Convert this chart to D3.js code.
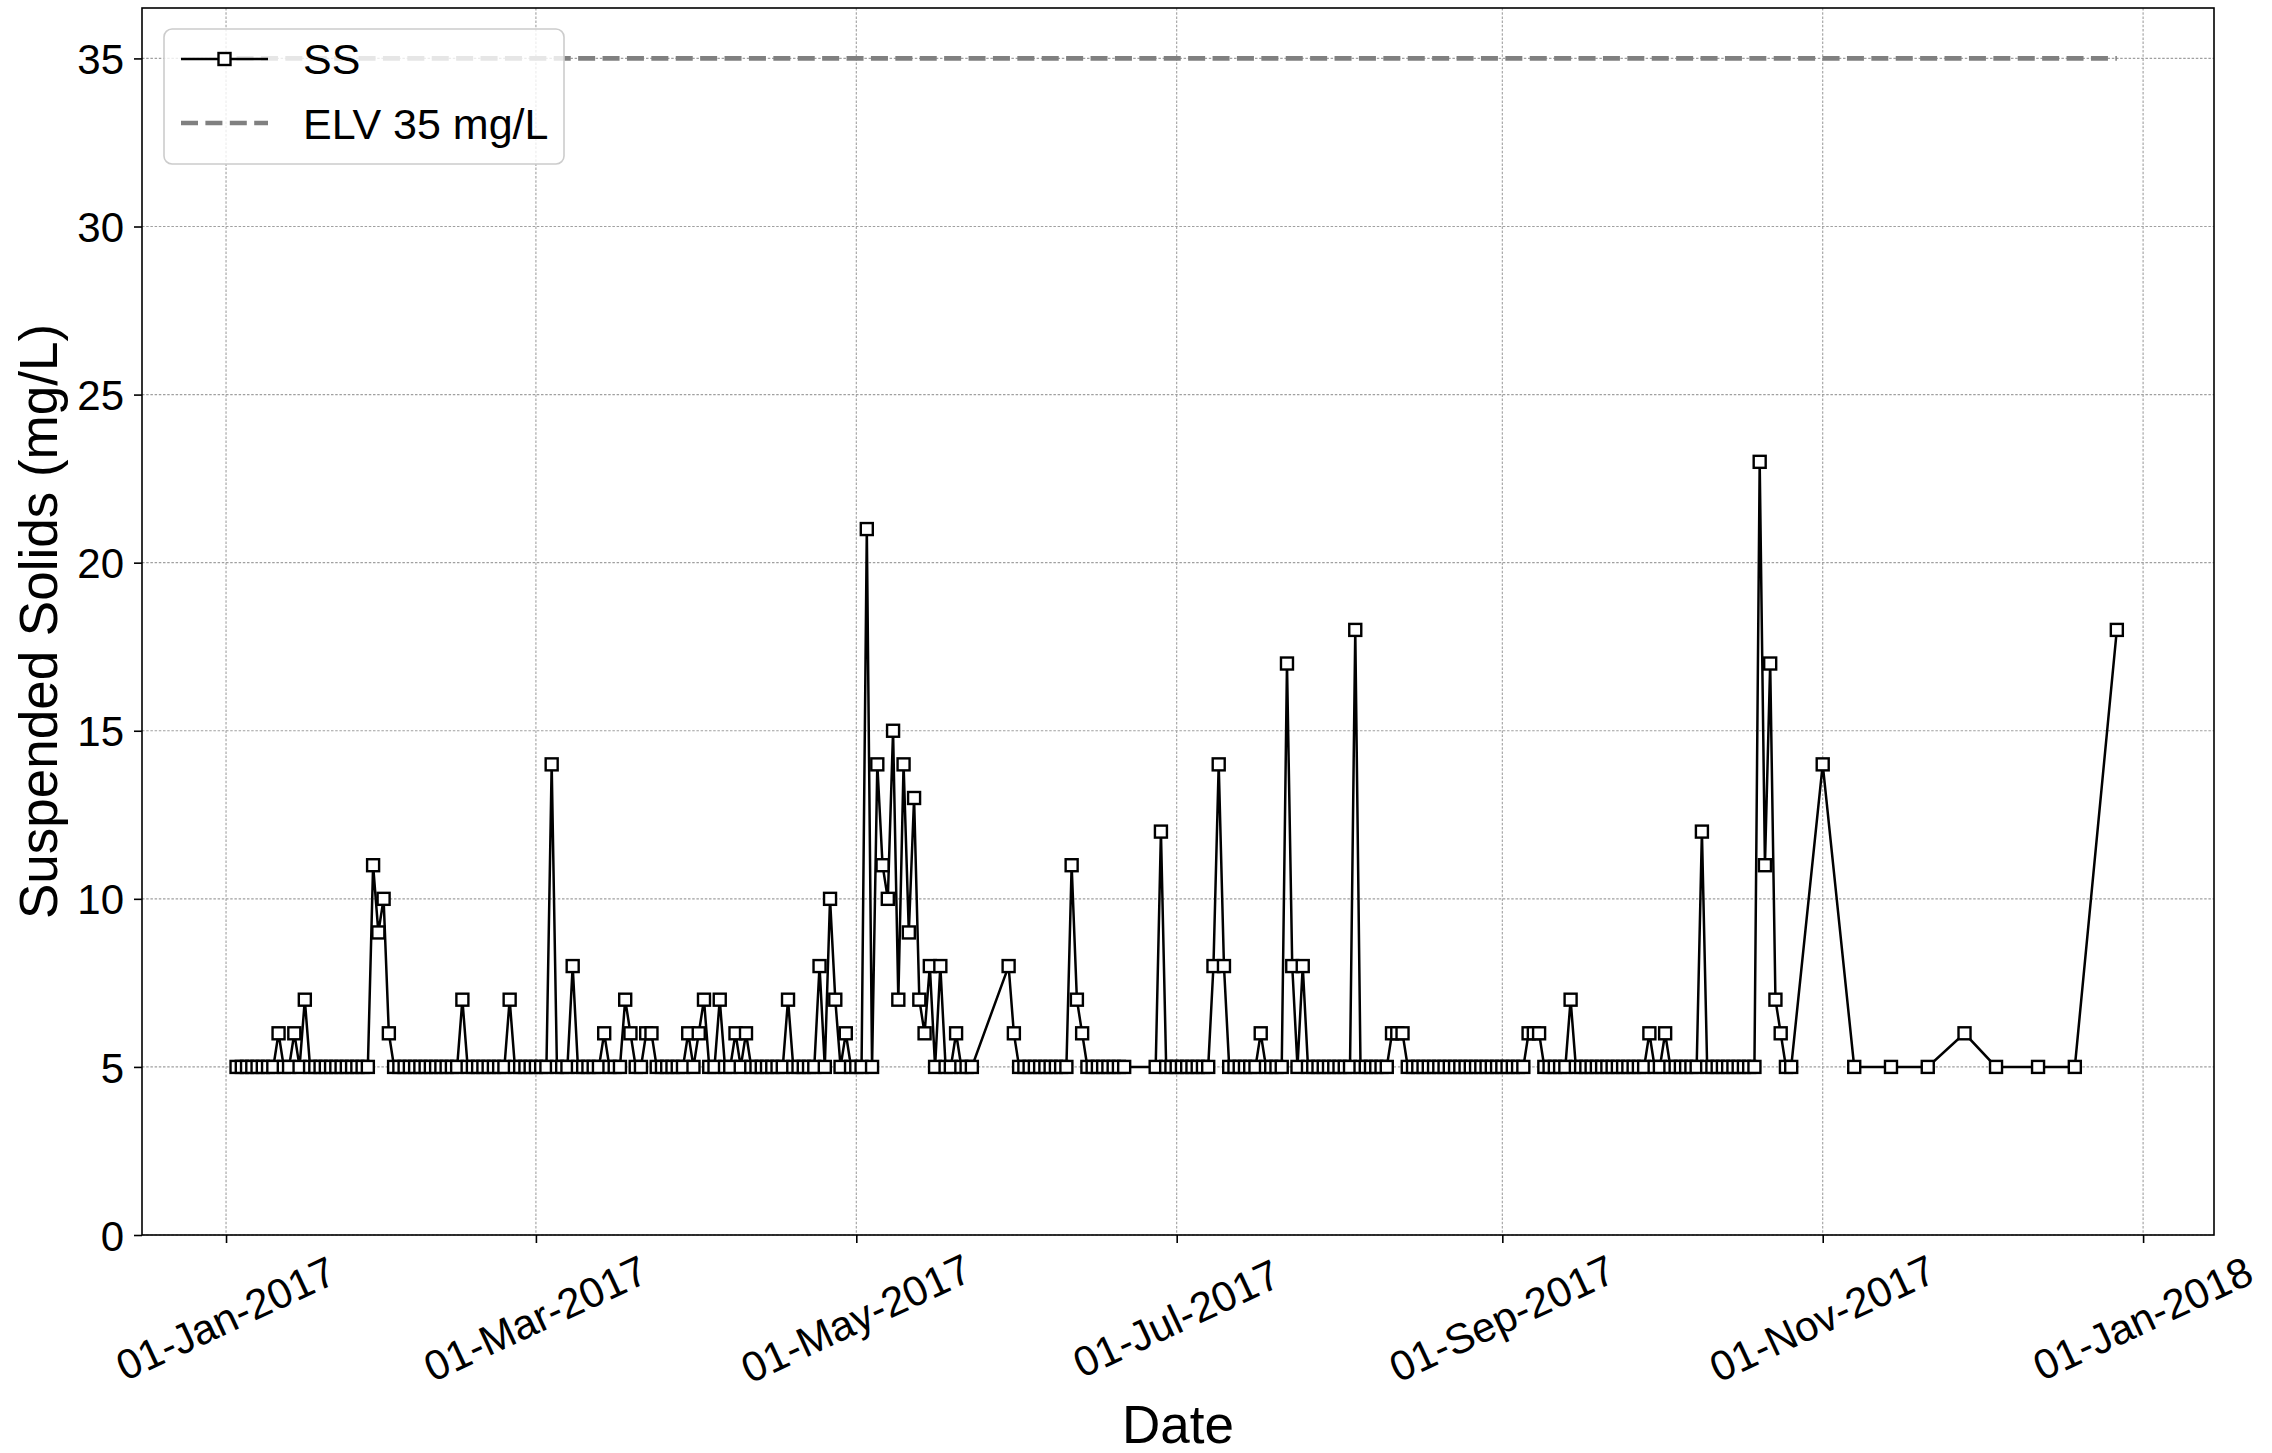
<!DOCTYPE html>
<html>
<head>
<meta charset="utf-8">
<script src="https://cdn.jsdelivr.net/npm/d3@7"></script>
<style>
  html, body { margin: 0; padding: 0; background: #ffffff; }
  svg { display: block; }
  text { font-family: "Liberation Sans", Arial, Helvetica, sans-serif; fill: #000; }
</style>
</head>
<body>
<svg id="chart" width="2272" height="1453"></svg>
<script>
// Daily suspended solids samples, 2017
const sampleDates = [
  "2017-01-03","2017-01-04","2017-01-05","2017-01-06","2017-01-07","2017-01-08","2017-01-09","2017-01-10","2017-01-11","2017-01-12","2017-01-13","2017-01-14","2017-01-15","2017-01-16","2017-01-17","2017-01-18","2017-01-19","2017-01-20","2017-01-21","2017-01-22","2017-01-23","2017-01-24","2017-01-25","2017-01-26","2017-01-27","2017-01-28","2017-01-29","2017-01-30","2017-01-31",
  "2017-02-01","2017-02-02","2017-02-03","2017-02-04","2017-02-05","2017-02-06","2017-02-07","2017-02-08","2017-02-09","2017-02-10","2017-02-11","2017-02-12","2017-02-13","2017-02-14","2017-02-15","2017-02-16","2017-02-17","2017-02-18","2017-02-19","2017-02-20","2017-02-21","2017-02-22","2017-02-23","2017-02-24","2017-02-25","2017-02-26","2017-02-27","2017-02-28",
  "2017-03-01","2017-03-02","2017-03-03","2017-03-04","2017-03-05","2017-03-06","2017-03-07","2017-03-08","2017-03-09","2017-03-10","2017-03-11","2017-03-12","2017-03-13","2017-03-14","2017-03-15","2017-03-16","2017-03-17","2017-03-18","2017-03-19","2017-03-20","2017-03-21","2017-03-22","2017-03-23","2017-03-24","2017-03-25","2017-03-26","2017-03-27","2017-03-28","2017-03-29","2017-03-30","2017-03-31",
  "2017-04-01","2017-04-02","2017-04-03","2017-04-04","2017-04-05","2017-04-06","2017-04-07","2017-04-08","2017-04-09","2017-04-10","2017-04-11","2017-04-12","2017-04-13","2017-04-14","2017-04-15","2017-04-16","2017-04-17","2017-04-18","2017-04-19","2017-04-20","2017-04-21","2017-04-22","2017-04-23","2017-04-24","2017-04-25","2017-04-26","2017-04-27","2017-04-28","2017-04-29","2017-04-30",
  "2017-05-01","2017-05-02","2017-05-03","2017-05-04","2017-05-05","2017-05-06","2017-05-07","2017-05-08","2017-05-09","2017-05-10","2017-05-11","2017-05-12","2017-05-13","2017-05-14","2017-05-15","2017-05-16","2017-05-17","2017-05-18","2017-05-19","2017-05-20","2017-05-21","2017-05-22","2017-05-23","2017-05-30","2017-05-31",
  "2017-06-01","2017-06-02","2017-06-03","2017-06-04","2017-06-05","2017-06-06","2017-06-07","2017-06-08","2017-06-09","2017-06-10","2017-06-11","2017-06-12","2017-06-13","2017-06-14","2017-06-15","2017-06-16","2017-06-17","2017-06-18","2017-06-19","2017-06-20","2017-06-21","2017-06-27","2017-06-28","2017-06-29","2017-06-30",
  "2017-07-01","2017-07-02","2017-07-03","2017-07-04","2017-07-05","2017-07-06","2017-07-07","2017-07-08","2017-07-09","2017-07-10","2017-07-11","2017-07-12","2017-07-13","2017-07-14","2017-07-15","2017-07-16","2017-07-17","2017-07-18","2017-07-19","2017-07-20","2017-07-21","2017-07-22","2017-07-23","2017-07-24","2017-07-25","2017-07-26","2017-07-27","2017-07-28","2017-07-29","2017-07-30","2017-07-31",
  "2017-08-01","2017-08-02","2017-08-03","2017-08-04","2017-08-05","2017-08-06","2017-08-07","2017-08-08","2017-08-09","2017-08-10","2017-08-11","2017-08-12","2017-08-13","2017-08-14","2017-08-15","2017-08-16","2017-08-17","2017-08-18","2017-08-19","2017-08-20","2017-08-21","2017-08-22","2017-08-23","2017-08-24","2017-08-25","2017-08-26","2017-08-27","2017-08-28","2017-08-29","2017-08-30","2017-08-31",
  "2017-09-01","2017-09-02","2017-09-03","2017-09-04","2017-09-05","2017-09-06","2017-09-07","2017-09-08","2017-09-09","2017-09-10","2017-09-11","2017-09-12","2017-09-13","2017-09-14","2017-09-15","2017-09-16","2017-09-17","2017-09-18","2017-09-19","2017-09-20","2017-09-21","2017-09-22","2017-09-23","2017-09-24","2017-09-25","2017-09-26","2017-09-27","2017-09-28","2017-09-29","2017-09-30",
  "2017-10-01","2017-10-02","2017-10-03","2017-10-04","2017-10-05","2017-10-06","2017-10-07","2017-10-08","2017-10-09","2017-10-10","2017-10-11","2017-10-12","2017-10-13","2017-10-14","2017-10-15","2017-10-16","2017-10-17","2017-10-18","2017-10-19","2017-10-20","2017-10-21","2017-10-22","2017-10-23","2017-10-24","2017-10-25","2017-10-26",
  "2017-11-01","2017-11-07","2017-11-14","2017-11-21","2017-11-28",
  "2017-12-04","2017-12-12","2017-12-19","2017-12-27"
];

// Suspended solids (mg/L), one value per sample date
const ssValues = [
  5,5,5,5,5,5,5,5,6,5,5,6,5,7,5,5,5,5,5,5,5,5,5,5,5,5,11,9,10,
  6,5,5,5,5,5,5,5,5,5,5,5,5,5,7,5,5,5,5,5,5,5,5,7,5,5,5,5,
  5,5,5,14,5,5,5,8,5,5,5,5,5,6,5,5,5,7,6,5,5,6,6,5,5,5,5,5,5,6,5,
  6,7,5,5,7,5,5,6,5,6,5,5,5,5,5,5,5,7,5,5,5,5,5,8,5,10,7,5,6,5,
  5,5,21,5,14,11,10,15,7,14,9,13,7,6,8,5,8,5,5,6,5,5,5,8,6,
  5,5,5,5,5,5,5,5,5,5,11,7,6,5,5,5,5,5,5,5,5,5,12,5,5,
  5,5,5,5,5,5,5,8,14,8,5,5,5,5,5,5,6,5,5,5,5,17,8,5,8,5,5,5,5,5,5,
  5,5,5,18,5,5,5,5,5,5,6,6,6,5,5,5,5,5,5,5,5,5,5,5,5,5,5,5,5,5,5,
  5,5,5,5,5,6,6,6,5,5,5,5,5,7,5,5,5,5,5,5,5,5,5,5,5,5,5,5,6,5,
  5,6,5,5,5,5,5,5,12,5,5,5,5,5,5,5,5,5,5,23,11,17,7,6,5,5,
  14,5,5,5,6,
  5,5,5,18
];

// Emission limit value
const elvValue = 35;
const elvLabel = "ELV 35 mg/L";
const seriesLabel = "SS";

// Axis ticks
const yTicks = [0, 5, 10, 15, 20, 25, 30, 35];
const xTickDates = ["2017-01-01","2017-03-01","2017-05-01","2017-07-01","2017-09-01","2017-11-01","2018-01-01"];

const xTitle = "Date";
const yTitle = "Suspended Solids (mg/L)";

// ---------------------------------------------------------------
const parse = d3.utcParse("%Y-%m-%d");
const fmt = d3.utcFormat("%d-%b-%Y");
const samples = sampleDates.map((d, i) => ({ date: parse(d), value: ssValues[i] }));

const plot = { left: 142, right: 2214, top: 8, bottom: 1235 };
const svg = d3.select("#chart");

const x = d3.scaleUtc()
  .domain([Date.UTC(2016, 11, 16), Date.UTC(2018, 0, 14, 12)])
  .range([plot.left, plot.right]);
const y = d3.scaleLinear()
  .domain([0, 36.5])
  .range([plot.bottom, plot.top]);

const tickFont = 42;
const legendFont = 43;

// grid
const grid = svg.append("g").attr("class", "grid");
grid.selectAll("line.gx").data(xTickDates.map(parse)).join("line")
  .attr("x1", d => x(d)).attr("x2", d => x(d))
  .attr("y1", plot.top).attr("y2", plot.bottom)
  .attr("stroke", "#a0a0a0").attr("stroke-width", 1.1).attr("stroke-dasharray", "2.5,1.7");
grid.selectAll("line.gy").data(yTicks).join("line")
  .attr("x1", plot.left).attr("x2", plot.right)
  .attr("y1", d => y(d)).attr("y2", d => y(d))
  .attr("stroke", "#a0a0a0").attr("stroke-width", 1.1).attr("stroke-dasharray", "2.5,1.7");

// limit line
const first = samples[0].date, last = samples[samples.length - 1].date;
svg.append("line")
  .attr("x1", x(first)).attr("x2", x(last))
  .attr("y1", y(elvValue)).attr("y2", y(elvValue))
  .attr("stroke", "#808080").attr("stroke-width", 4.6)
  .attr("stroke-dasharray", "17,7.4");

// SS series
const line = d3.line().x(d => x(d.date)).y(d => y(d.value));
svg.append("path").datum(samples)
  .attr("d", line).attr("fill", "none")
  .attr("stroke", "#000").attr("stroke-width", 2.5).attr("stroke-linejoin", "miter");

const ms = 12;
svg.append("g").selectAll("rect").data(samples).join("rect")
  .attr("x", d => x(d.date) - ms / 2).attr("y", d => y(d.value) - ms / 2)
  .attr("width", ms).attr("height", ms)
  .attr("fill", "#fff").attr("stroke", "#000").attr("stroke-width", 2.4);

// frame
svg.append("rect")
  .attr("x", plot.left).attr("y", plot.top)
  .attr("width", plot.right - plot.left).attr("height", plot.bottom - plot.top)
  .attr("fill", "none").attr("stroke", "#000").attr("stroke-width", 1.6);

// y axis
const yAxis = d3.axisLeft(y).tickValues(yTicks).tickSize(8).tickPadding(10).tickFormat(d3.format("d"));
const gy = svg.append("g").attr("transform", `translate(${plot.left},0)`).call(yAxis);
gy.select(".domain").remove();
gy.selectAll(".tick line").attr("stroke", "#000").attr("stroke-width", 1.6);
gy.selectAll(".tick text")
  .attr("font-size", tickFont)
  .attr("font-family", "Liberation Sans, Arial, sans-serif")
  .attr("dy", "0.36em");

// x axis
const xAxis = d3.axisBottom(x).tickValues(xTickDates.map(parse)).tickSize(8).tickFormat(fmt);
const gx = svg.append("g").attr("transform", `translate(0,${plot.bottom})`).call(xAxis);
gx.select(".domain").remove();
gx.selectAll(".tick line").attr("stroke", "#000").attr("stroke-width", 1.6);
gx.selectAll(".tick text")
  .attr("font-size", tickFont)
  .attr("font-family", "Liberation Sans, Arial, sans-serif")
  .attr("text-anchor", "middle")
  .attr("y", 0).attr("dy", "0.36em")
  .attr("transform", "translate(-1,83) rotate(-25)");

// axis titles
svg.append("text")
  .attr("x", (plot.left + plot.right) / 2).attr("y", 1443)
  .attr("text-anchor", "middle").attr("font-size", 53)
  .text(xTitle);
svg.append("text")
  .attr("transform", `translate(57,${(plot.top + plot.bottom) / 2}) rotate(-90)`)
  .attr("text-anchor", "middle").attr("font-size", 53)
  .text(yTitle);

// legend
const lg = svg.append("g");
lg.append("rect")
  .attr("x", 164).attr("y", 29).attr("width", 400).attr("height", 135)
  .attr("rx", 8).attr("ry", 8)
  .attr("fill", "#fff").attr("fill-opacity", 0.8)
  .attr("stroke", "#cccccc").attr("stroke-width", 1.6);
lg.append("line").attr("x1", 181).attr("x2", 268).attr("y1", 59).attr("y2", 59)
  .attr("stroke", "#000").attr("stroke-width", 2.5);
lg.append("rect").attr("x", 224.5 - ms / 2).attr("y", 59 - ms / 2).attr("width", ms).attr("height", ms)
  .attr("fill", "#fff").attr("stroke", "#000").attr("stroke-width", 2.4);
lg.append("text").attr("x", 303).attr("y", 74).attr("font-size", legendFont).text(seriesLabel);
lg.append("line").attr("x1", 181).attr("x2", 268).attr("y1", 123).attr("y2", 123)
  .attr("stroke", "#808080").attr("stroke-width", 4.6).attr("stroke-dasharray", "17,7.4");
lg.append("text").attr("x", 303).attr("y", 139).attr("font-size", legendFont).text(elvLabel);
</script>
</body>
</html>
